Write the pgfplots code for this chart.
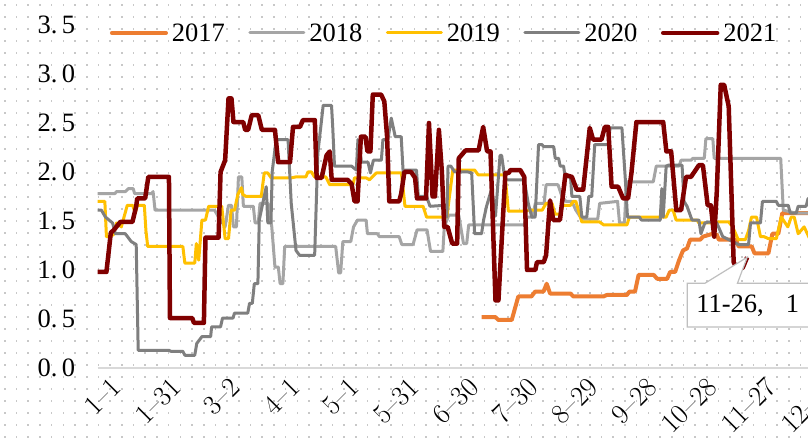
\documentclass[border=0pt]{standalone}
\usepackage{fontspec}
\usepackage{pgfplots}
\pgfplotsset{compat=1.18}
\newfontfamily\lib{Liberation Serif}
\definecolor{c17}{HTML}{ED7D31}
\definecolor{c18}{HTML}{A5A5A5}
\definecolor{c19}{HTML}{FFC000}
\definecolor{c20}{HTML}{7F7F7F}
\definecolor{c21}{HTML}{800000}
\definecolor{dotc}{HTML}{C8C8C8}
\definecolor{axc}{HTML}{D9D9D9}
\definecolor{boxc}{HTML}{BFBFBF}
\newcommand{\bigf}{\lib\fontsize{26.5pt}{30pt}\selectfont}
\begin{document}
\begin{tikzpicture}
\useasboundingbox (0,0) rectangle (808pt,443pt);
\clip (0,0) rectangle (808pt,443pt);
\fill[white] (0,0) rectangle (808pt,443pt);
\foreach \i in {0,...,69} {\foreach \j in {0,...,37} {\fill[dotc] ({4pt+\i*11.7pt},{437pt-\j*12pt}) rectangle ++(1.6pt,1.6pt);}}
\begin{axis}[
  at={(97.5pt,75pt)}, anchor=south west, scale only axis,
  width=722.5pt, height=343pt,
  xmin=0, xmax=364, ymin=0, ymax=3.5,
  axis x line=bottom, axis y line=left,
  x axis line style={-, draw=axc, line width=1.5pt},
  y axis line style={draw=none},
  major tick length=0pt, tick style={draw=none},
  xtick={0,30,...,360},
  xticklabels={1--1,1--31,3--2,4--1,5--1,5--31,6--30,7--30,8--29,9--28,10--28,11--27,12--27},
  xticklabel style={font=\fontsize{28pt}{31pt}\selectfont, rotate=45, anchor=east, inner sep=0pt, xshift=3pt, yshift=-24pt},
  ytick={0,0.5,1,1.5,2,2.5,3,3.5},
  yticklabels={0.\hspace{4.5pt}0,0.\hspace{4.5pt}5,1.\hspace{4.5pt}0,1.\hspace{4.5pt}5,2.\hspace{4.5pt}0,2.\hspace{4.5pt}5,3.\hspace{4.5pt}0,3.\hspace{4.5pt}5},
  yticklabel style={font=\bigf, anchor=east, inner sep=0pt, xshift=-22.1pt},
  legend columns=5,
  legend style={at={(0.4785,0.9767)}, anchor=center, draw=none, fill=none, font=\bigf,
    nodes={inner sep=0pt},
    /tikz/every odd column/.append style={column sep=4pt},
    /tikz/every even column/.append style={column sep=23.5pt}},
  legend image code/.code={\draw[#1, line cap=round] (0pt,0pt) -- (54pt,0pt);},
  every axis plot/.append style={line join=round, no markers},
]
\addplot[c17, line width=4pt] coordinates {
(193.5,0.52) (200.4,0.52) (202,0.49) (208.7,0.49) (212,0.73) (218.6,0.73) (220.5,0.78) (224.7,0.78) (226.3,0.86) (228,0.76) (238.3,0.76) (239.7,0.73) (254.9,0.73) (256.6,0.745) (266.7,0.745) (268,0.78) (270.8,0.78) (272.6,0.95) (280.2,0.95) (282,0.91) (287,0.91) (288.5,0.98) (291,0.98) (293,1.1) (295,1.2) (297,1.22) (298.6,1.31) (303.7,1.31) (305,1.34) (310,1.37) (312,1.36) (313,1.31) (321.6,1.31) (323,1.24) (329.6,1.24) (331,1.17) (338,1.17) (340,1.37) (343,1.37) (345,1.58) (364,1.58)};
\addlegendentry{2017}
\addplot[c18, line width=3pt] coordinates {
(0,1.78) (8.8,1.78) (9.6,1.80) (14,1.80) (15.5,1.83) (18,1.83) (18.7,1.78) (27.3,1.78) (28,1.80) (29,1.61) (59,1.61) (61,1.54) (64.3,1.44) (66,1.66) (67.5,1.66) (68.5,1.44) (70,1.44) (71,1.95) (72.7,1.95) (73.5,1.65) (78.5,1.65) (79.4,1.48) (81,1.48) (81.9,1.68) (86,1.68) (87.8,1.44) (89.4,1.03) (91.1,1.03) (92,0.86) (93.4,0.86) (94.3,1.24) (120,1.24) (121.5,0.97) (122.5,0.97) (123.6,1.29) (127.6,1.29) (129,1.44) (131,1.51) (135.3,1.51) (136,1.37) (141,1.37) (142,1.34) (152,1.34) (153.3,1.26) (159,1.26) (161,1.41) (166,1.41) (167.8,1.19) (174,1.19) (174.7,1.44) (177,1.56) (182,1.56) (184.4,1.27) (186,1.27) (187,1.46) (215,1.46) (216,1.54) (219,1.54) (220.6,1.68) (225,1.68) (226,1.87) (232,1.87) (234,1.75) (236,1.70) (239,1.70) (241,1.61) (244,1.52) (252,1.52) (253,1.68) (262,1.70) (263,1.48) (265.5,1.48) (266.5,1.90) (280,1.90) (281.5,2.06) (293,2.06) (294,2.12) (299,2.12) (300,2.14) (305.7,2.14) (306.5,2.34) (310,2.34) (310.7,2.14) (344.2,2.14) (345.5,1.61) (352,1.58) (364,1.58)};
\addlegendentry{2018}
\addplot[c19, line width=3pt] coordinates {
(0,1.70) (3.7,1.70) (4.5,1.34) (6,1.34) (8,1.36) (9.6,1.48) (12,1.44) (15,1.66) (17.7,1.66) (19,1.58) (20,1.66) (23.6,1.66) (24.4,1.40) (25.3,1.24) (43,1.24) (44,1.07) (49,1.07) (49.8,1.27) (51,1.1) (52.6,1.51) (54.4,1.51) (56,1.65) (62.6,1.65) (64.3,1.32) (66,1.32) (67.3,1.61) (69,1.61) (70.7,1.77) (72.5,1.84) (73.2,1.77) (74.9,1.75) (82.5,1.75) (84,1.99) (85.8,1.99) (87.5,1.94) (97.6,1.94) (100,1.95) (105,1.95) (106,2.0) (107.8,2.0) (109.3,1.95) (115,1.95) (117,1.87) (128.7,1.87) (129.5,1.94) (135.4,1.94) (137,1.92) (140.5,1.99) (153.1,1.99) (154.9,1.65) (164,1.65) (165.8,1.54) (176,1.54) (179,2.02) (190,2.02) (191.8,1.97) (205.3,1.97) (207,1.6) (215.4,1.6) (217,1.61) (224,1.61) (226,1.68) (229,1.68) (230.5,1.57) (233,1.57) (234.5,1.66) (238.3,1.66) (239.7,1.70) (241,1.70) (244,1.49) (253,1.49) (255,1.46) (266.7,1.46) (268,1.54) (286.5,1.54) (288,1.61) (290,1.61) (291.5,1.51) (302,1.51) (303,1.48) (311,1.48) (313,1.49) (318,1.49) (320,1.44) (322.8,1.31) (326.4,1.31) (328,1.40) (329.5,1.54) (332,1.54) (334,1.34) (335.8,1.34) (338,1.32) (342,1.32) (344.5,1.54) (347.8,1.44) (349.5,1.54) (351,1.54) (353,1.37) (356,1.44) (359,1.31) (364,1.35)};
\addlegendentry{2019}
\addplot[c20, line width=3pt] coordinates {
(0,1.61) (2,1.61) (4,1.54) (7.6,1.48) (9,1.37) (14,1.37) (17,1.29) (19.5,1.26) (20.5,0.18) (36,0.18) (37,0.17) (43,0.17) (44,0.13) (49,0.13) (50,0.25) (52.6,0.32) (57,0.32) (57.5,0.42) (62,0.42) (63,0.51) (68.3,0.51) (69,0.56) (75.7,0.56) (76.6,0.66) (78,0.66) (79,0.86) (80.8,0.86) (81.5,1.51) (85,1.85) (85.8,1.48) (87.4,1.48) (88,2.0) (90,2.33) (96,2.33) (97.6,1.68) (100,1.2) (101.8,1.15) (109.4,1.15) (111,2.19) (113.7,2.68) (117.9,2.68) (118.5,2.46) (119.4,2.06) (128,2.06) (130.4,2.02) (131.2,2.33) (133,2.1) (136.3,2.1) (137.5,1.99) (139,2.12) (143,2.12) (143.8,2.33) (146.3,2.33) (148,2.55) (150,2.36) (153,2.36) (154.2,1.92) (155,2.02) (160.7,2.02) (161.6,1.75) (165.8,1.75) (167.5,1.65) (175,1.66) (176,1.54) (176.6,2.06) (178,2.06) (180,2.0) (186.7,2.0) (188.5,1.99) (190,1.37) (193.5,1.37) (194.5,1.51) (196,1.65) (198.6,1.83) (200.5,1.55) (202.8,2.17) (203.6,2.17) (205.3,1.92) (215,1.92) (217,1.68) (218.8,1.54) (220.5,1.54) (222.2,2.28) (223.9,2.28) (224.7,2.26) (229.8,2.26) (230.6,2.14) (232.3,2.14) (233.1,2.06) (234.8,2.06) (235.6,1.95) (238.3,1.95) (239,1.75) (243,1.75) (244,1.54) (246.5,1.54) (247.5,1.75) (249,1.75) (250.5,2.28) (257.4,2.28) (258.2,2.45) (264.2,2.45) (266,1.9) (267,1.54) (273,1.54) (274,1.51) (283.5,1.51) (284.3,1.83) (285,1.54) (286.5,2.06) (287.7,2.07) (294.5,2.07) (295.5,1.7) (297,1.65) (299.5,1.51) (303,1.51) (304,1.37) (306,1.48) (308,1.49) (312,1.48) (315,1.34) (323,1.26) (328,1.26) (329,1.48) (334,1.48) (335,1.70) (342,1.70) (343,1.66) (348,1.66) (349,1.58) (352,1.58) (353,1.65) (357,1.65) (358,1.73) (364,1.73)};
\addlegendentry{2020}
\addplot[c21, line width=4.5pt] coordinates {
(0,0.98) (4.5,0.98) (6.7,1.38) (8.3,1.41) (11.5,1.49) (17.6,1.49) (19.5,1.65) (20,1.73) (24,1.73) (25.6,1.95) (36,1.95) (36.5,0.51) (47.7,0.51) (48.6,0.46) (53.6,0.46) (54.4,1.33) (61,1.33) (62,2.0) (64.3,2.12) (66,2.75) (67.5,2.75) (68.5,2.51) (73.4,2.51) (74.4,2.43) (75.9,2.43) (77.7,2.58) (81,2.58) (82.8,2.43) (89.4,2.43) (91,2.1) (97,2.1) (98.5,2.46) (102,2.46) (103.5,2.53) (109.5,2.53) (110.4,1.94) (112.9,1.94) (115.4,2.17) (117,2.21) (118,1.92) (126,1.92) (128,1.88) (129.5,1.70) (131,1.70) (132.7,2.36) (135,2.36) (136,2.21) (137.5,2.21) (138.7,2.79) (142.9,2.79) (144.5,2.72) (145.9,2.36) (147,1.70) (152,1.70) (153,1.78) (154.6,2.0) (158,2.0) (160,1.94) (161,1.73) (165.5,1.73) (167,2.5) (168.8,1.75) (170,1.75) (172,2.43) (173.5,2.0) (174.7,1.44) (176.4,1.44) (178.7,1.27) (181.2,1.27) (182,2.14) (185.4,2.22) (192,2.22) (194.3,2.46) (196.3,2.21) (198,2.21) (200.5,0.69) (202,0.69) (205.5,1.99) (207.2,1.99) (208,2.02) (213,2.02) (215,1.95) (216.4,1.0) (220.6,1.0) (221.4,1.08) (224.8,1.08) (226,1.15) (228,1.71) (229.6,1.51) (233,1.51) (235.7,1.97) (239,1.95) (241.4,1.82) (244.7,1.82) (248,2.45) (249.7,2.33) (253.9,2.33) (255.6,2.46) (257.3,2.46) (259,1.85) (262.3,1.85) (264.8,1.73) (267.3,1.73) (269,1.99) (271.5,2.51) (285,2.51) (286.6,2.21) (289,2.21) (291.6,1.61) (294,1.61) (296.5,1.95) (299,1.95) (303,2.07) (305,2.07) (307.4,1.66) (309,1.66) (310.7,1.34) (312,1.8) (314,2.89) (315.7,2.89) (318,2.67) (320.5,1.08) (322,1.02) (325,1.02) (327.3,1.13)};
\addlegendentry{2021}
\draw[boxc, line width=1.2pt, fill=white] (axis cs:297.1,0.864) -- (axis cs:306,0.864) -- (axis cs:327.3,1.13) -- (axis cs:322.4,0.864) -- (axis cs:380,0.864) -- (axis cs:380,0.418) -- (axis cs:297.1,0.418) -- cycle;
\node[anchor=west, font=\bigf, inner sep=0pt] at (axis cs:301.6,0.633) {11-26,\hspace{22pt}1};
\end{axis}
\end{tikzpicture}
\end{document}
